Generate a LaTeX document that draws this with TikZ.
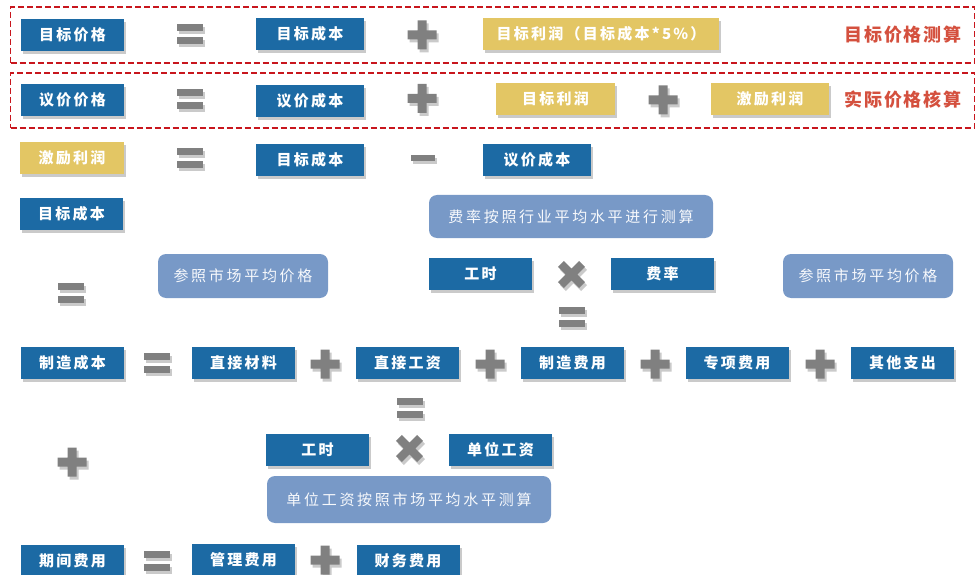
\documentclass[tikz,border=0pt]{standalone}
\usepackage{fontspec}
\usetikzlibrary{shadows}
\newfontfamily\cjk{Noto Sans CJK SC}[LetterSpace=15]
\newfontfamily\cjktitle{Noto Sans CJK SC}[LetterSpace=10]
\newfontfamily\cjklight{Noto Sans CJK SC}[LetterSpace=18]
\definecolor{boxblue}{HTML}{1C6AA4}
\definecolor{boxgold}{HTML}{E3C664}
\definecolor{softblue}{HTML}{7899C7}
\definecolor{opgray}{HTML}{808080}
\definecolor{framered}{HTML}{C8161D}
\definecolor{titlered}{HTML}{D4503E}
\tikzset{
  myshadow/.style={drop shadow={shadow xshift=2pt, shadow yshift=-3pt, opacity=0.35, fill=black!60}},
  bluebox/.style={fill=boxblue, text=white, minimum width=103pt, minimum height=32pt, inner sep=0pt,
     font=\cjk\bfseries\fontsize{15}{15}\selectfont, myshadow},
  goldbox/.style={bluebox, fill=boxgold},
  softbox/.style={fill=softblue, text=white!94!softblue, rounded corners=8pt, inner sep=0pt,
     font=\cjklight\fontsize{15}{15}\selectfont},
  framebox/.style={draw=framered, line width=1.3pt, dash pattern=on 6pt off 3pt, minimum width=964pt, minimum height=56pt, inner sep=0pt},
  titletext/.style={text=titlered, font=\cjktitle\bfseries\fontsize{18}{18}\selectfont, inner sep=0pt},
  opfill/.style={fill=opgray, myshadow},
  eqsign/.pic={\fill[opfill] (-13,3) rectangle (13,10); \fill[opfill] (-13,-10) rectangle (13,-3);},
  plussign/.pic={\fill[opfill] (-14.5,-4.5) -- (-4.5,-4.5) -- (-4.5,-14.5) -- (4.5,-14.5) -- (4.5,-4.5) -- (14.5,-4.5)
        -- (14.5,4.5) -- (4.5,4.5) -- (4.5,14.5) -- (-4.5,14.5) -- (-4.5,4.5) -- (-14.5,4.5) -- cycle;},
  timessign/.pic={\fill[opfill, rotate=45] (-15,-4.2) -- (-4.2,-4.2) -- (-4.2,-15) -- (4.2,-15) -- (4.2,-4.2) -- (15,-4.2)
        -- (15,4.2) -- (4.2,4.2) -- (4.2,15) -- (-4.2,15) -- (-4.2,4.2) -- (-15,4.2) -- cycle;},
  minussign/.pic={\fill[opfill] (-12,-3) rectangle (12,3);}
}
\begin{document}
\begin{tikzpicture}[x=1pt, y=-1pt]
\useasboundingbox (0,0) rectangle (978,575);
\begin{scope}
\clip (0,0) rectangle (978,575);
% frames
\node[framebox] (frame1) at (492.5,35) {};
\node[framebox, minimum height=55pt] (frame2) at (492.5,100.5) {};
\node[titletext] (t1) at (903,35) {目标价格测算};
\node[titletext] (t2) at (903,100) {实际价格核算};
% row 1
\node[bluebox] (mbjg) at (72.5,35) {目标价格};
\pic at (189.5,34) {eqsign};
\node[bluebox, minimum width=108pt] (mbcb1) at (310,34) {目标成本};
\pic at (422,35) {plussign};
\node[goldbox, minimum width=236pt] (mblr1) at (601,34) {目标利润（目标成本*5\%）};
% row 2
\node[bluebox] (yjjg) at (72.5,100) {议价价格};
\pic at (189.5,99.5) {eqsign};
\node[bluebox, minimum width=108pt] (yjcb1) at (310,101) {议价成本};
\pic at (422,98.5) {plussign};
\node[goldbox, minimum width=119pt] (mblr2) at (555.5,99) {目标利润};
\pic at (663,100) {plussign};
\node[goldbox, minimum width=118pt] (jllr1) at (770,99) {激励利润};
% row 3
\node[goldbox, minimum width=104pt] (jllr2) at (72,158) {激励利润};
\pic at (189.5,158.5) {eqsign};
\node[bluebox, minimum width=108pt] (mbcb2) at (310,160) {目标成本};
\pic at (423,158) {minussign};
\node[bluebox, minimum width=108pt] (yjcb2) at (537,160) {议价成本};
% row 4
\node[bluebox] (mbcb3) at (71.5,214) {目标成本};
\node[softbox, minimum width=284pt, minimum height=43pt] (note1) at (571,216.5) {费率按照行业平均水平进行测算};
\pic at (71,293) {eqsign};
\node[softbox, minimum width=170pt, minimum height=44pt] (note2) at (243,276) {参照市场平均价格};
\node[bluebox] (gs1) at (480.5,274) {工时};
\pic at (571.5,274.5) {timessign};
\node[bluebox] (fl) at (662.5,274) {费率};
\node[softbox, minimum width=170pt, minimum height=44pt] (note3) at (868,276) {参照市场平均价格};
\pic at (572,317) {eqsign};
% row 5
\node[bluebox] (zzcb) at (72.5,363) {制造成本};
\pic at (157,363) {eqsign};
\node[bluebox] (zjcl) at (243.5,363) {直接材料};
\pic at (325,364) {plussign};
\node[bluebox] (zjgz) at (407.5,363) {直接工资};
\pic at (490,364) {plussign};
\node[bluebox] (zzfy) at (572.5,363) {制造费用};
\pic at (655,364) {plussign};
\node[bluebox] (zxfy) at (737,363) {专项费用};
\pic at (820,364) {plussign};
\node[bluebox] (qtzc) at (902.5,363) {其他支出};
% row 6
\pic at (410,407.5) {eqsign};
\node[bluebox] (gs2) at (317.5,450) {工时};
\pic at (409.5,448.5) {timessign};
\node[bluebox] (dwgz) at (500.5,450) {单位工资};
\pic at (72,462) {plussign};
\node[softbox, minimum width=284pt, minimum height=47pt] (note4) at (409,499.5) {单位工资按照市场平均水平测算};
% row 7
\node[bluebox] (qjfy) at (72.5,561) {期间费用};
\pic at (157,561) {eqsign};
\node[bluebox] (glfy) at (243.5,560) {管理费用};
\pic at (325,560) {plussign};
\node[bluebox] (cwfy) at (408,561) {财务费用};
\end{scope}
\end{tikzpicture}
\end{document}
